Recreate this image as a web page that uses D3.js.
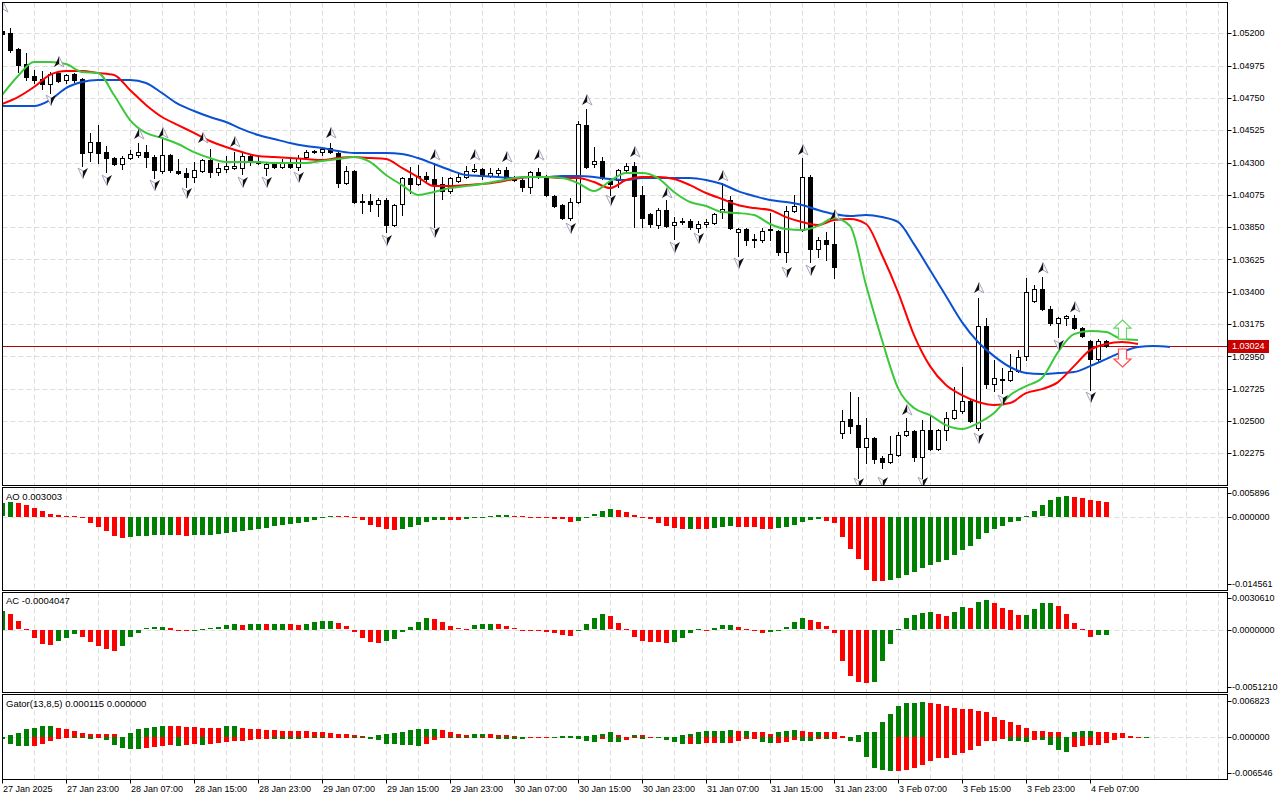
<!DOCTYPE html>
<html>
<head>
<meta charset="utf-8">
<script src="https://cdn.jsdelivr.net/npm/d3@7"></script>
<style>
	body { margin: 0; background: #fff; }
	text { font-family: "Liberation Sans", Arial, sans-serif; font-size: 9px; fill: #000; }
	.plabel { font-size: 9.5px; }
</style>
</head>
<body>
<div id="chart"></div>
<script>
// ---------------- data ----------------
const opens = [1.05216,1.05199,1.05091,1.04986,1.04903,1.04882,1.04847,1.04924,1.04875,1.04917,
	1.04882,1.04373,1.04443,1.04373,1.04331,1.04290,1.04331,1.04352,1.04373,1.04338,
	1.04241,1.04352,1.04241,1.04227,1.04199,1.04241,1.04317,1.04234,1.04255,1.04262,
	1.04262,1.04345,1.04311,1.04262,1.04290,1.04269,1.04297,1.04269,1.04338,1.04380,
	1.04373,1.04401,1.04366,1.04157,1.04241,1.04032,1.04032,1.04011,1.04039,1.03865,
	1.04011,1.04192,1.04150,1.04206,1.04185,1.04150,1.04101,1.04171,1.04199,1.04241,
	1.04255,1.04206,1.04227,1.04248,1.04199,1.04178,1.04129,1.04234,1.04199,1.04067,
	1.04004,1.03913,1.04025,1.04561,1.04290,1.04311,1.04171,1.04178,1.04248,1.04276,
	1.04074,1.03941,1.03865,1.03969,1.03865,1.03893,1.03893,1.03844,1.03872,1.03879,
	1.03955,1.04039,1.03816,1.03837,1.03767,1.03760,1.03837,1.03823,1.03677,1.03962,
	1.03830,1.04199,1.03697,1.03760,1.03732,1.02416,1.02513,1.02471,1.02318,1.02381,
	1.02242,1.02214,1.02263,1.02402,1.02430,1.02249,1.02437,1.02304,1.02437,1.02520,
	1.02569,1.02639,1.02451,1.03161,1.02757,1.02785,1.02785,1.02848,1.02952,1.03335,
	1.03419,1.03280,1.03182,1.03217,1.03217,1.03147,1.03057,1.02931,1.03057]
const highs = [1.05237,1.05237,1.05098,1.05063,1.04944,1.04937,1.04930,1.04930,1.04917,1.04924,
	1.04889,1.04506,1.04561,1.04415,1.04338,1.04345,1.04387,1.04436,1.04422,1.04352,
	1.04471,1.04359,1.04324,1.04262,1.04304,1.04324,1.04394,1.04297,1.04345,1.04373,
	1.04373,1.04352,1.04338,1.04304,1.04297,1.04324,1.04331,1.04352,1.04387,1.04387,
	1.04408,1.04436,1.04373,1.04276,1.04248,1.04081,1.04081,1.04053,1.04053,1.04011,
	1.04199,1.04269,1.04283,1.04234,1.04297,1.04199,1.04199,1.04227,1.04276,1.04290,
	1.04262,1.04262,1.04262,1.04269,1.04206,1.04199,1.04241,1.04262,1.04213,1.04074,
	1.04011,1.04053,1.04589,1.04673,1.04408,1.04338,1.04192,1.04255,1.04297,1.04304,
	1.04136,1.03948,1.03983,1.04039,1.03920,1.03913,1.03906,1.03893,1.03906,1.03948,
	1.04157,1.04067,1.03844,1.03844,1.03802,1.03844,1.03948,1.03830,1.03997,1.04074,
	1.04331,1.04213,1.03781,1.03816,1.03886,1.02576,1.02701,1.02667,1.02520,1.02388,
	1.02256,1.02395,1.02423,1.02520,1.02437,1.02506,1.02541,1.02444,1.02562,1.02736,
	1.02875,1.02646,1.03356,1.03217,1.02924,1.02869,1.02966,1.02994,1.03496,1.03447,
	1.03502,1.03300,1.03224,1.03238,1.03238,1.03154,1.03064,1.03071,1.03064]
const lows = [1.05181,1.05070,1.04930,1.04875,1.04854,1.04812,1.04784,1.04861,1.04854,1.04861,
	1.04276,1.04311,1.04297,1.04234,1.04283,1.04255,1.04324,1.04338,1.04269,1.04192,
	1.04227,1.04234,1.04220,1.04129,1.04164,1.04234,1.04199,1.04213,1.04234,1.04255,
	1.04220,1.04283,1.04290,1.04213,1.04262,1.04262,1.04262,1.04248,1.04331,1.04366,
	1.04352,1.04366,1.04129,1.04150,1.04018,1.03948,1.03962,1.03927,1.03816,1.03858,
	1.03934,1.04088,1.04143,1.04157,1.03851,1.04046,1.04088,1.04164,1.04192,1.04234,
	1.04185,1.04199,1.04213,1.04185,1.04171,1.04101,1.04088,1.04192,1.04067,1.03990,
	1.03906,1.03899,1.04018,1.04262,1.04269,1.04185,1.04074,1.04129,1.04234,1.03851,
	1.03851,1.03851,1.03844,1.03851,1.03767,1.03872,1.03837,1.03816,1.03851,1.03872,
	1.03913,1.03837,1.03649,1.03725,1.03711,1.03746,1.03760,1.03656,1.03607,1.03955,
	1.03823,1.03607,1.03642,1.03621,1.03496,1.02381,1.02416,1.02102,1.02207,1.02207,
	1.02172,1.02207,1.02256,1.02395,1.02221,1.02102,1.02297,1.02297,1.02367,1.02513,
	1.02555,1.02492,1.02437,1.02729,1.02708,1.02694,1.02778,1.02841,1.02924,1.03328,
	1.03273,1.03168,1.03085,1.03168,1.03140,1.03085,1.02715,1.02910,1.03015]
const closes = [1.05195,1.05084,1.04979,1.04896,1.04875,1.04847,1.04917,1.04868,1.04910,1.04875,
	1.04366,1.04443,1.04366,1.04331,1.04290,1.04331,1.04359,1.04373,1.04338,1.04248,
	1.04352,1.04248,1.04230,1.04199,1.04248,1.04317,1.04234,1.04262,1.04276,1.04276,
	1.04345,1.04304,1.04297,1.04290,1.04269,1.04304,1.04269,1.04331,1.04373,1.04373,
	1.04394,1.04373,1.04157,1.04241,1.04025,1.04025,1.04011,1.04039,1.03865,1.04004,
	1.04192,1.04150,1.04206,1.04185,1.04150,1.04101,1.04192,1.04199,1.04241,1.04255,
	1.04213,1.04227,1.04248,1.04192,1.04178,1.04129,1.04234,1.04199,1.04074,1.03997,
	1.03913,1.04025,1.04568,1.04269,1.04311,1.04192,1.04150,1.04248,1.04276,1.04067,
	1.03913,1.03872,1.03969,1.03858,1.03886,1.03886,1.03851,1.03872,1.03886,1.03941,
	1.03976,1.03844,1.03837,1.03760,1.03760,1.03823,1.03830,1.03677,1.03962,1.03997,
	1.04199,1.03697,1.03760,1.03732,1.03572,1.02499,1.02465,1.02318,1.02381,1.02235,
	1.02214,1.02269,1.02402,1.02430,1.02249,1.02437,1.02304,1.02437,1.02520,1.02576,
	1.02639,1.02499,1.03161,1.02757,1.02799,1.02792,1.02848,1.02945,1.03398,1.03419,
	1.03280,1.03182,1.03217,1.03231,1.03147,1.03092,1.02931,1.03057,1.03024]

// alligator lines, one value every 2nd bar starting at bar 0 (already shifted forward)
const jawValues = [1.04694,1.04694,1.04694,1.04735,1.04819,1.04861,1.04875,1.04875,1.04875,1.04854,
	1.04784,1.04708,1.04659,1.04617,1.04582,1.04533,1.04492,1.04464,1.04436,1.04415,
	1.04401,1.04380,1.04366,1.04366,1.04366,1.04359,1.04331,1.04290,1.04248,1.04213,
	1.04206,1.04199,1.04192,1.04199,1.04199,1.04206,1.04206,1.04199,1.04185,1.04178,
	1.04192,1.04192,1.04192,1.04192,1.04178,1.04150,1.04101,1.04067,1.04039,1.04025,
	1.04004,1.03969,1.03941,1.03927,1.03934,1.03920,1.03886,1.03732,1.03551,1.03370,
	1.03189,1.03050,1.02952,1.02876,1.02834,1.02827,1.02834,1.02841,1.02882,1.02931,
	1.02980,1.03015,1.03022,1.03015]
const teethValues = [1.04708,1.04756,1.04826,1.04910,1.04937,1.04937,1.04924,1.04910,1.04805,1.04701,
	1.04617,1.04561,1.04506,1.04450,1.04408,1.04373,1.04345,1.04338,1.04331,1.04324,
	1.04317,1.04331,1.04338,1.04331,1.04324,1.04262,1.04199,1.04136,1.04136,1.04143,
	1.04150,1.04164,1.04185,1.04199,1.04199,1.04192,1.04192,1.04164,1.04122,1.04178,
	1.04199,1.04199,1.04185,1.04143,1.04088,1.04046,1.04004,1.03983,1.03969,1.03920,
	1.03886,1.03865,1.03899,1.03906,1.03872,1.03656,1.03398,1.03098,1.02882,1.02750,
	1.02680,1.02632,1.02611,1.02625,1.02694,1.02722,1.02771,1.02882,1.02994,1.03036,
	1.03050,1.03036]
const lipsValues = [1.04770,1.04903,1.05000,1.05000,1.04986,1.04930,1.04924,1.04770,1.04596,1.04506,
	1.04471,1.04429,1.04373,1.04331,1.04304,1.04304,1.04304,1.04297,1.04297,1.04297,
	1.04311,1.04324,1.04338,1.04304,1.04213,1.04143,1.04074,1.04095,1.04122,1.04136,
	1.04150,1.04171,1.04192,1.04199,1.04199,1.04192,1.04157,1.04101,1.04171,1.04227,
	1.04227,1.04192,1.04095,1.04025,1.03997,1.03955,1.03948,1.03934,1.03872,1.03837,
	1.03830,1.03858,1.03913,1.03858,1.03447,1.03064,1.02729,1.02590,1.02541,1.02471,
	1.02444,1.02485,1.02555,1.02680,1.02743,1.02799,1.02980,1.03105,1.03126,1.03119,
	1.03071,1.03064]

// fractals: bar index and the price where the arrow sits
const fractalUpIdx = [0,7,17,20,25,29,41,54,59,63,67,73,79,83,90,100,104,113,122,130,134]
const fractalUpPrice = [1.05383,1.05000,1.04499,1.04506,1.04471,1.04443,1.04506,1.04352,1.04352,1.04338,1.04352,
	1.04735,1.04373,1.04088,1.04206,1.04387,1.03934,1.02576,1.03426,1.03565,1.03293]
const fractalDownIdx = [6,10,13,19,23,30,33,37,48,54,71,76,84,87,92,98,101,107,110,115,122,125,132,136]
const fractalDownPrice = [1.04735,1.04227,1.04178,1.04143,1.04088,1.04164,1.04164,1.04199,1.03760,1.03816,1.03844,
	1.04039,1.03711,1.03774,1.03600,1.03537,1.03551,1.02067,1.02074,1.02074,1.02381,1.02646,1.03029,1.02667]

// signal arrows at the right end (tip prices)
const signalIdx = 140
const signalUpTip = 1.03203
const signalDownTip = 1.02876
const lastPrice = 1.03024

// Awesome oscillator
const aoValues = [0.00276,0.00309,0.00289,0.00241,0.00186,0.00119,0.00064,0.00037,0.00023,0.00015,
	-0.0002,-0.0012,-0.00202,-0.0029,-0.0039,-0.00427,-0.00407,-0.0039,-0.00386,-0.00372,
	-0.00366,-0.0036,-0.00372,-0.00386,-0.00372,-0.00366,-0.0036,-0.00338,-0.00318,-0.00304,
	-0.0029,-0.0027,-0.0025,-0.00222,-0.00188,-0.00154,-0.00134,-0.00113,-0.001,-0.00065,
	-0.0001,0.0002,0.00015,0.0001,-0.0001,-0.0007,-0.0016,-0.0021,-0.00243,-0.00264,
	-0.00243,-0.0021,-0.0016,-0.00106,-0.0006,-0.00055,-0.0006,-0.00065,-0.0005,-0.0002,
	-0.0001,0.0002,0.0004,0.00045,0.0002,0.00015,0.00005,-0.00005,-0.0001,-0.0004,
	-0.0005,-0.00095,-0.00075,-0.0001,0.0005,0.0012,0.0016,0.0014,0.001,0.0004,
	0,-0.0005,-0.0012,-0.0018,-0.0023,-0.0024,-0.00238,-0.0024,-0.00245,-0.0022,
	-0.0021,-0.0019,-0.00195,-0.002,-0.0021,-0.00243,-0.00245,-0.0022,-0.0021,-0.0016,
	-0.001,-0.0007,-0.0005,-0.0008,-0.0012,-0.00413,-0.00652,-0.00857,-0.01082,-0.01313,
	-0.01316,-0.01287,-0.01246,-0.0119,-0.01129,-0.01041,-0.0098,-0.00919,-0.00878,-0.00775,
	-0.00673,-0.00597,-0.00448,-0.00325,-0.00245,-0.0018,-0.001,-0.0008,0.0001,0.0012,
	0.00235,0.00338,0.004,0.0042,0.004,0.0038,0.0034,0.0032,0.003003]

// Accelerator oscillator
const acValues = [0.00159,0.00134,0.0007,0.00005,-0.0007,-0.00117,-0.00125,-0.00089,-0.00063,-0.00036,
	-0.00058,-0.001,-0.00131,-0.00155,-0.00175,-0.00133,-0.0006,-0.00022,0.00012,0.00019,
	0.00025,0.00013,-0.00005,-0.0001,-0.00005,0.00002,0.0001,0.0002,0.00036,0.00047,
	0.00039,0.00049,0.0005,0.00048,0.0005,0.00051,0.00047,0.0004,0.00048,0.00067,
	0.00069,0.0007,0.00053,0.00028,-0.0002,-0.0007,-0.00103,-0.00105,-0.00092,-0.00078,
	-0.0002,0.00025,0.00067,0.001,0.00092,0.00067,0.0003,0.0001,0.00005,0.00035,
	0.00045,0.00046,0.00044,0.00027,0.0001,0,-0.0001,-0.00012,-0.00013,-0.00028,
	-0.00045,-0.00046,-0.0001,0.00047,0.00094,0.0013,0.0011,0.00056,0.00005,-0.0006,
	-0.00089,-0.00097,-0.00102,-0.0011,-0.001,-0.0007,-0.00028,0.00002,0,0.00015,
	0.00035,0.00042,0.00025,0.00005,-0.0001,-0.00028,-0.00017,0,0.0002,0.0006,
	0.00095,0.00084,0.0006,0.00028,-0.00028,-0.00262,-0.00382,-0.00432,-0.00446,-0.00437,
	-0.00262,-0.0012,0.00002,0.00094,0.00122,0.00136,0.00144,0.00128,0.00111,0.00145,
	0.00186,0.00178,0.00228,0.00245,0.0022,0.00178,0.00167,0.0012,0.00121,0.0017,
	0.0022,0.00221,0.00195,0.00128,0.00053,0.00006,-0.00055,-0.00044,-0.0004047]

// Gator oscillator, upper (jaw-teeth) and lower (teeth-lips) histograms
const gatorUp = [0.0001,0.0004,0.0007,0.0013,0.0016,0.00185,0.0019,0.0016,0.0014,0.001,
	0.0007,0.00055,0.00054,0.00053,0.0005,0.0001,0.0007,0.0013,0.0016,0.00176,
	0.0019,0.00187,0.0018,0.0017,0.00165,0.0016,0.00158,0.00155,0.0018,0.00182,
	0.0016,0.0014,0.0013,0.0012,0.00118,0.0011,0.001,0.00098,0.00097,0.00096,
	0.0008,0.00075,0.00055,0.00054,0.0004,0.0003,0.0001,0.0004,0.0005,0.00077,
	0.0009,0.0012,0.0013,0.00143,0.00145,0.0012,0.0009,0.00055,0.00045,0.0006,
	0.00061,0.0006,0.00045,0.00035,0.0002,0.0001,0.00005,0.00003,0.00005,0.00004,
	0.0002,0.00021,0.00022,0.0003,0.00035,0.0006,0.0008,0.00045,0.0001,0.0004,
	0.00039,0.0001,0.00005,0.00002,0.00001,0.0004,0.00055,0.0009,0.001,0.0011,
	0.00112,0.00113,0.00108,0.0011,0.0009,0.0008,0.0006,0.0008,0.0011,0.00126,
	0.0011,0.0009,0.00092,0.0009,0.0008,0.0003,0.0001,0.0004,0.0008,0.0009,
	0.0026,0.0039,0.0052,0.0056,0.0057,0.0059,0.0057,0.0055,0.0052,0.0049,
	0.0047,0.0046,0.0044,0.0041,0.0034,0.0029,0.0025,0.002,0.0016,0.0011,
	0.00108,0.0009,0.0008,0.0001,0.0008,0.0011,0.00112,0.00095,0.0008,0.00078,
	0.00075,0.0003,0.0001,0.000115]
const gatorDown = [-0.0003,-0.0011,-0.0015,-0.00152,-0.00148,-0.0011,-0.0007,-0.0004,-0.0002,-0.00022,
	-0.00024,-0.00026,-0.0001,-0.00055,-0.0014,-0.0018,-0.0019,-0.002,-0.0018,-0.00165,
	-0.0015,-0.0014,-0.0015,-0.0014,-0.0012,-0.00125,-0.0011,-0.00105,-0.0008,-0.0007,
	-0.00065,-0.00055,-0.0004,-0.0003,-0.00031,-0.00032,-0.00033,-0.00034,-0.0001,-0.0001,
	-0.0001,-0.00005,-0.00003,-0.00002,-0.0001,-0.0002,-0.0003,-0.00045,-0.0011,-0.00115,
	-0.0013,-0.0014,-0.00141,-0.0011,-0.00055,-0.0001,-0.00016,-0.00017,-0.00018,-0.0002,
	-0.00011,-0.00005,-0.0003,-0.00031,-0.00032,-0.00033,-0.0001,-0.00005,-0.00003,-0.00005,
	-0.0001,-0.0002,-0.0004,-0.0007,-0.0008,-0.0004,-0.00082,-0.0009,-0.0005,-0.0002,
	-0.00025,-0.0001,-0.0002,-0.0005,-0.0009,-0.00115,-0.0011,-0.00115,-0.001,-0.00099,
	-0.00105,-0.001,-0.0007,-0.0003,-0.00029,-0.0008,-0.001,-0.00098,-0.0008,-0.0005,
	-0.0007,-0.00071,-0.0003,-0.0004,-0.0003,-0.00015,-0.0007,-0.0008,-0.0033,-0.0051,
	-0.0055,-0.0056,-0.00555,-0.0055,-0.0051,-0.0047,-0.0039,-0.0035,-0.00345,-0.0029,
	-0.0026,-0.0022,-0.0015,-0.0007,-0.00069,-0.0003,-0.0007,-0.00072,-0.00075,-0.0005,
	-0.00055,-0.0014,-0.0022,-0.0025,-0.0017,-0.0015,-0.0014,-0.0013,-0.001,-0.00045,
	-0.0002,-0.00005]

// axis ticks
const priceTicks = [1.05200,1.04975,1.04750,1.04525,1.04300,1.04075,1.03850,1.03625,1.03400,1.03175,1.02950,1.02725,1.02500,1.02275]
const aoTicks = [0.005896, 0, -0.014561]
const acTicks = [0.003061, 0, -0.005121]
const gatorTicks = [0.006823, 0, -0.006546]
const timeLabels = ["27 Jan 2025","27 Jan 23:00","28 Jan 07:00","28 Jan 15:00","28 Jan 23:00","29 Jan 07:00",
	"29 Jan 15:00","29 Jan 23:00","30 Jan 07:00","30 Jan 15:00","30 Jan 23:00","31 Jan 07:00",
	"31 Jan 15:00","31 Jan 23:00","3 Feb 07:00","3 Feb 15:00","3 Feb 23:00","4 Feb 07:00"]

// ---------------- layout ----------------
const svgWidth = 1280
const svgHeight = 800
const left = 2.5
const right = 1227.5
const green = "#008000"
const red = "#ff0000"
const gridColor = "#dcdcdc"

const panels = {
	main: { top: 2.5, bottom: 485.5 },
	ao: { top: 487.5, bottom: 590.5 },
	ac: { top: 592.5, bottom: 692.5 },
	gator: { top: 694.5, bottom: 779.5 }
}

let svg = d3.select("#chart")
	.append("svg")
	.attr("width", svgWidth)
	.attr("height", svgHeight)

// one bar every 8px
const x = d3.scaleLinear().domain([0, 152]).range([2, 1218])
const yMain = d3.scaleLinear().domain([1.02275, 1.052]).range([453.3, 33.3])
const yAO = d3.scaleLinear().domain([-0.014561, 0.005896]).range([588, 488])
const yAC = d3.scaleLinear().domain([-0.005121, 0.003061]).range([691, 593])
const yGator = d3.scaleLinear().domain([-0.006546, 0.006823]).range([777, 696])

let defs = svg.append("defs")
Object.keys(panels).forEach(k => {
	defs.append("clipPath").attr("id", "clip-" + k)
		.append("rect")
		.attr("x", left)
		.attr("y", panels[k].top)
		.attr("width", right - left)
		.attr("height", panels[k].bottom - panels[k].top)
})

function panelGroup(name) {
	return svg.append("g").attr("clip-path", `url(#clip-${name})`)
}

// vertical grid every 4 bars in every panel
const gridIdx = d3.range(4, 153, 4)
Object.keys(panels).forEach(k => {
	panelGroup(k).selectAll("line")
		.data(gridIdx)
		.enter()
		.append("line")
		.attr("x1", d => x(d) + 0.5)
		.attr("x2", d => x(d) + 0.5)
		.attr("y1", panels[k].top)
		.attr("y2", panels[k].bottom)
		.attr("stroke", gridColor)
		.attr("stroke-dasharray", "5,3")
})

// horizontal grid
let mainGrid = panelGroup("main")
mainGrid.selectAll("line")
	.data(priceTicks)
	.enter()
	.append("line")
	.attr("x1", left)
	.attr("x2", right)
	.attr("y1", d => Math.round(yMain(d)) + 0.5)
	.attr("y2", d => Math.round(yMain(d)) + 0.5)
	.attr("stroke", gridColor)
	.attr("stroke-dasharray", "5,3")

const subScales = [["ao", yAO], ["ac", yAC], ["gator", yGator]]
subScales.forEach(([k, s]) => {
	panelGroup(k).append("line")
		.attr("x1", left)
		.attr("x2", right)
		.attr("y1", Math.round(s(0)) + 0.5)
		.attr("y2", Math.round(s(0)) + 0.5)
		.attr("stroke", gridColor)
		.attr("stroke-dasharray", "5,3")
})

// ---------------- main chart ----------------
let mainG = panelGroup("main")

// last price line
mainG.append("line")
	.attr("x1", left)
	.attr("x2", right)
	.attr("y1", Math.round(yMain(lastPrice)) + 0.5)
	.attr("y2", Math.round(yMain(lastPrice)) + 0.5)
	.attr("stroke", "#b40000")

const candles = opens.map((o, i) => ({ i: i, o: o, h: highs[i], l: lows[i], c: closes[i] }))

mainG.selectAll(".wick")
	.data(candles)
	.enter()
	.append("line")
	.attr("x1", d => x(d.i) + 0.5)
	.attr("x2", d => x(d.i) + 0.5)
	.attr("y1", d => Math.round(yMain(d.h)))
	.attr("y2", d => Math.round(yMain(d.l)) + 1)
	.attr("stroke", "#000")

mainG.selectAll(".body")
	.data(candles)
	.enter()
	.append("rect")
	.attr("x", d => x(d.i) - 1.5)
	.attr("y", d => Math.round(yMain(Math.max(d.o, d.c))) + 0.5)
	.attr("width", 4)
	.attr("height", d => Math.max(1, Math.round(Math.abs(yMain(d.o) - yMain(d.c)))))
	.attr("fill", d => d.c >= d.o ? "#fff" : "#000")
	.attr("stroke", "#000")
	.attr("shape-rendering", "crispEdges")

// alligator
function drawLine(values, color) {
	let line = d3.line()
		.x((d, k) => x(k * 2))
		.y(d => yMain(d))
		.curve(d3.curveMonotoneX)
	mainG.append("path")
		.datum(values)
		.attr("d", line)
		.attr("fill", "none")
		.attr("stroke", color)
		.attr("stroke-width", 2)
}
drawLine(jawValues, "#0a50d2")
drawLine(teethValues, "#ff0000")
drawLine(lipsValues, "#3cc83c")

// fractal arrows: dark half and a hollow half
const fractalsUp = fractalUpIdx.map((d, k) => ({ i: d, p: fractalUpPrice[k] }))
const fractalsDown = fractalDownIdx.map((d, k) => ({ i: d, p: fractalDownPrice[k] }))

let upG = mainG.selectAll(".fup")
	.data(fractalsUp)
	.enter()
	.append("g")
	.attr("transform", d => `translate(${x(d.i) + 1}, ${yMain(d.p)})`)
upG.append("path").attr("d", "M0,-5.5 L5,5 L0,2 Z")
	.attr("fill", "#fff").attr("stroke", "#9a9ab4").attr("stroke-width", 0.9)
upG.append("path").attr("d", "M0,-5.5 L-5,5 L0,2 Z").attr("fill", "#111")

let downG = mainG.selectAll(".fdown")
	.data(fractalsDown)
	.enter()
	.append("g")
	.attr("transform", d => `translate(${x(d.i) + 1}, ${yMain(d.p)})`)
downG.append("path").attr("d", "M0,5.5 L-5,-5 L0,-2 Z")
	.attr("fill", "#fff").attr("stroke", "#9a9ab4").attr("stroke-width", 0.9)
downG.append("path").attr("d", "M0,5.5 L5,-5 L0,-2 Z").attr("fill", "#111")

// signal arrows
mainG.append("path")
	.attr("transform", `translate(${x(signalIdx) + 0.5}, ${yMain(signalUpTip)})`)
	.attr("d", "M0,0 L8.5,8 L4,8 L4,19 L-4,19 L-4,8 L-8.5,8 Z")
	.attr("fill", "#fff")
	.attr("stroke", "#66d966")
	.attr("stroke-width", 1.2)
mainG.append("path")
	.attr("transform", `translate(${x(signalIdx) + 0.5}, ${yMain(signalDownTip)})`)
	.attr("d", "M0,0 L8.5,-8 L4,-8 L4,-18 L-4,-18 L-4,-8 L-8.5,-8 Z")
	.attr("fill", "#fff")
	.attr("stroke", "#ff5050")
	.attr("stroke-width", 1.2)

// ---------------- oscillators ----------------
function drawHist(name, values, scale, colorFn) {
	let g = panelGroup(name)
	const zero = scale(0)
	g.selectAll("rect")
		.data(values)
		.enter()
		.append("rect")
		.attr("x", (d, i) => x(i) - 2)
		.attr("width", 5)
		.attr("y", d => Math.round(Math.min(scale(d), zero)))
		.attr("height", d => Math.max(1, Math.round(Math.abs(scale(d) - zero))))
		.attr("fill", colorFn)
		.attr("shape-rendering", "crispEdges")
}

drawHist("ao", aoValues, yAO, (d, i) => i === 0 || d > aoValues[i - 1] ? green : red)
drawHist("ac", acValues, yAC, (d, i) => i === 0 || d > acValues[i - 1] ? green : red)
drawHist("gator", gatorUp, yGator, (d, i) => i === 0 || d >= gatorUp[i - 1] ? green : red)
drawHist("gator", gatorDown, yGator, (d, i) => i === 0 || Math.abs(d) >= Math.abs(gatorDown[i - 1]) ? green : red)

// ---------------- frames and axes ----------------
Object.keys(panels).forEach(k => {
	svg.append("rect")
		.attr("x", left)
		.attr("y", panels[k].top)
		.attr("width", right - left)
		.attr("height", panels[k].bottom - panels[k].top)
		.attr("fill", "none")
		.attr("stroke", "#000")
		.attr("shape-rendering", "crispEdges")
})

// price axis
let priceAxis = svg.append("g")
priceAxis.selectAll("line")
	.data(priceTicks)
	.enter()
	.append("line")
	.attr("x1", right)
	.attr("x2", right + 4)
	.attr("y1", d => Math.round(yMain(d)) + 0.5)
	.attr("y2", d => Math.round(yMain(d)) + 0.5)
	.attr("stroke", "#000")
priceAxis.selectAll("text")
	.data(priceTicks)
	.enter()
	.append("text")
	.attr("x", 1232)
	.attr("y", d => yMain(d))
	.attr("dy", "0.35em")
	.text(d => d.toFixed(5))

// last price label
svg.append("rect")
	.attr("x", 1228)
	.attr("y", Math.round(yMain(lastPrice)) - 6)
	.attr("width", 41)
	.attr("height", 13)
	.attr("fill", "#c80000")
svg.append("text")
	.attr("x", 1232)
	.attr("y", yMain(lastPrice))
	.attr("dy", "0.4em")
	.style("fill", "#fff")
	.text(lastPrice.toFixed(5))

// oscillator axes: max near top, zero, min near bottom
function subAxis(ticks, scale, digits) {
	const offsets = [5, 0, -4]
	ticks.forEach((t, k) => {
		const y = scale(t) + offsets[k]
		svg.append("line")
			.attr("x1", right).attr("x2", right + 4)
			.attr("y1", Math.round(y) + 0.5).attr("y2", Math.round(y) + 0.5)
			.attr("stroke", "#000")
		svg.append("text")
			.attr("x", 1232)
			.attr("y", y)
			.attr("dy", "0.35em")
			.text(t.toFixed(digits))
	})
}
subAxis(aoTicks, yAO, 6)
subAxis(acTicks, yAC, 7)
subAxis(gatorTicks, yGator, 6)

// panel captions
svg.append("text").attr("class", "plabel").attr("x", 6).attr("y", 500).text("AO " + aoValues[aoValues.length - 1].toFixed(6))
svg.append("text").attr("class", "plabel").attr("x", 6).attr("y", 604).text("AC " + acValues[acValues.length - 1].toFixed(7))
svg.append("text").attr("class", "plabel").attr("x", 6).attr("y", 707)
	.text("Gator(13,8,5) " + gatorUp[gatorUp.length - 1].toFixed(6) + " 0.000000")

// time axis
let timeAxis = svg.append("g")
timeAxis.selectAll("line")
	.data(timeLabels)
	.enter()
	.append("line")
	.attr("x1", (d, k) => x(k * 8) + 0.5)
	.attr("x2", (d, k) => x(k * 8) + 0.5)
	.attr("y1", panels.gator.bottom)
	.attr("y2", panels.gator.bottom + 4)
	.attr("stroke", "#000")
timeAxis.selectAll("text")
	.data(timeLabels)
	.enter()
	.append("text")
	.attr("x", (d, k) => x(k * 8) + 1)
	.attr("y", 792)
	.text(d => d)
</script>
</body>
</html>
